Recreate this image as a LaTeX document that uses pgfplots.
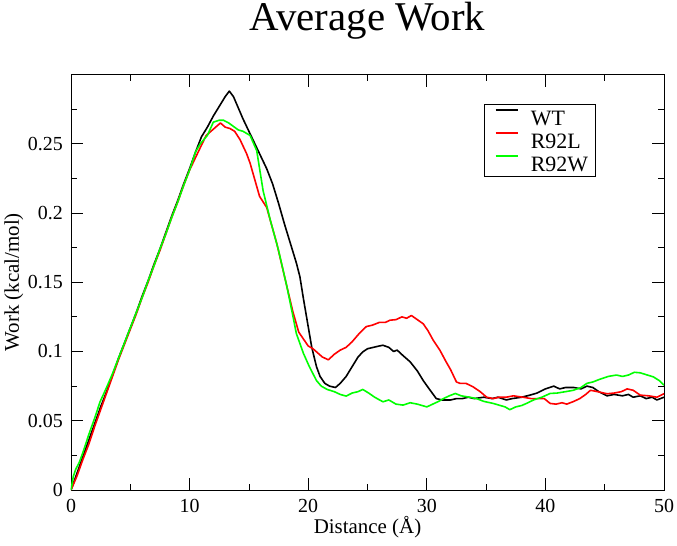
\documentclass[border=0pt]{standalone}
\usepackage{pgfplots}
\pgfplotsset{compat=1.18}
\usepackage{fontspec}
\setmainfont{Liberation Serif}
\definecolor{xmred}{RGB}{255,0,0}
\definecolor{xmgreen}{RGB}{0,255,0}
\begin{document}
\begin{tikzpicture}
\useasboundingbox (-71bp,-56bp) rectangle (606bp,490bp);
\begin{axis}[
  at={(0,0)}, anchor=south west,
  scale only axis, width=593bp, height=415.5bp,
  xmin=0, xmax=50, ymin=0, ymax=0.3,
  xtick={0,10,20,30,40,50}, minor x tick num=1,
  ytick={0,0.05,0.1,0.15,0.2,0.25},
  yticklabels={0,0.05,0.1,0.15,0.2,0.25},
  minor ytick={0.025,0.075,0.125,0.175,0.225,0.275},
  tick align=inside,
  major tick length=12bp, minor tick length=6bp,
  every tick/.style={black, line width=0.8bp},
  axis line style={black, line width=0.9bp},
  /pgf/number format/assume math mode=true,
  ticklabel style={font=\fontsize{20}{20}\selectfont, inner sep=0pt},
  xticklabel style={anchor=base, yshift=-22bp},
  yticklabel style={anchor=east, xshift=-8bp},
  xlabel={Distance (Å)},
  ylabel={Work (kcal/mol)},
  label style={font=\fontsize{21}{21}\selectfont, inner sep=0pt},
  xlabel style={at={(axis description cs:0.5,0)}, anchor=base, yshift=-43bp},
  ylabel style={at={(axis description cs:-0.0877,0.5)}, anchor=base},
  title={Average Work},
  every axis title/.style={at={(axis description cs:0.5,1)}, anchor=base, yshift=44bp, font=\fontsize{41}{41}\selectfont, inner sep=0pt},
  legend style={at={(axis description cs:0.697,0.929)}, anchor=north west, draw=black, line width=0.8bp,
    inner xsep=7bp, inner ysep=1.5bp, column sep=12bp, row sep=0bp,
    font=\fontsize{22}{22}\selectfont,
    nodes={inner sep=0bp, text height=20bp, text depth=3bp}},
  legend cell align=left,
  every axis plot/.append style={line width=1.6bp, line join=round},
]
\addplot[black, legend image code/.code={\path (0bp,0bp); \draw[black, line width=1.6bp] (3bp,7.5bp) -- (25.5bp,7.5bp);}] coordinates {
(0,0) (0.5,0.012) (1,0.024) (1.5,0.036) (2,0.048) (2.5,0.060) (3,0.071) (3.5,0.083) (4,0.095) (4.5,0.106)
(5,0.117) (5.5,0.128) (6,0.140) (6.5,0.151) (7,0.163) (7.5,0.174) (8,0.186) (8.5,0.198) (9,0.209) (9.5,0.221)
(10,0.232) (10.5,0.244) (11,0.255) (11.5,0.262) (12,0.270) (12.5,0.277) (13,0.284) (13.35,0.288) (13.7,0.284)
(14,0.278) (14.5,0.268) (15,0.259) (15.5,0.250) (16,0.241) (16.5,0.232) (17,0.221) (17.5,0.207) (18,0.192)
(18.5,0.178) (19,0.164) (19.3,0.154) (19.6,0.138) (20,0.118) (20.3,0.103) (20.7,0.089) (21,0.082) (21.4,0.077)
(21.8,0.075) (22.3,0.074) (22.7,0.077) (23.2,0.082) (23.7,0.089) (24.2,0.096) (24.6,0.0997) (25,0.102)
(25.5,0.103) (26,0.104) (26.3,0.1045) (26.8,0.103) (27.2,0.100) (27.5,0.101) (28,0.097) (28.6,0.0925)
(29.2,0.086) (29.7,0.079) (30.2,0.073) (30.8,0.066) (31.3,0.065) (32,0.065) (32.5,0.066) (33,0.066)
(33.5,0.067) (34,0.066) (34.8,0.067) (35.5,0.066) (36,0.067) (36.7,0.065) (37.2,0.066) (38,0.067)
(38.7,0.0685) (39.3,0.070) (40,0.073) (40.7,0.075) (41.2,0.073) (41.7,0.074) (42.4,0.074) (43,0.073)
(43.5,0.075) (44,0.074) (44.5,0.071) (45.2,0.068) (45.8,0.069) (46.5,0.068) (47,0.069) (47.4,0.067)
(48,0.068) (48.5,0.066) (49,0.067) (49.4,0.065) (50,0.067)
};
\addlegendentry{WT}
\addplot[xmred, legend image code/.code={\path (0bp,0bp); \draw[xmred, line width=1.6bp] (3bp,7.5bp) -- (25.5bp,7.5bp);}] coordinates {
(0,0) (0.5,0.010) (1,0.022) (1.5,0.033) (2,0.046) (2.5,0.058) (3,0.070) (3.5,0.082) (4,0.094) (4.5,0.105)
(5,0.116) (5.5,0.127) (6,0.139) (6.5,0.150) (7,0.162) (7.5,0.173) (8,0.185) (8.5,0.197) (9,0.208) (9.5,0.220)
(10,0.231) (10.5,0.240) (11,0.249) (11.4,0.256) (11.8,0.259) (12.2,0.262) (12.6,0.265) (13,0.262) (13.4,0.261)
(13.8,0.259) (14.25,0.253) (14.8,0.243) (15.1,0.236) (15.9,0.212) (16.5,0.204) (17.35,0.178) (18.2,0.147)
(18.7,0.129) (19.2,0.114) (19.6,0.109) (20,0.104) (20.4,0.102) (20.8,0.099) (21.2,0.096) (21.7,0.094)
(22.2,0.098) (22.7,0.101) (23.2,0.103) (23.7,0.107) (24.3,0.113) (24.9,0.118) (25.4,0.119) (26,0.121)
(26.5,0.121) (26.9,0.1226) (27.4,0.123) (27.9,0.125) (28.3,0.124) (28.7,0.126) (29.2,0.123) (29.7,0.120)
(30.1,0.115) (30.55,0.108) (31.1,0.101) (31.6,0.093) (32,0.087) (32.5,0.078) (32.8,0.077) (33.3,0.077)
(33.9,0.0745) (34.5,0.071) (35.05,0.067) (35.6,0.066) (36.1,0.067) (36.7,0.067) (37.3,0.068) (38.1,0.067)
(38.8,0.066) (39.5,0.066) (39.9,0.066) (40.4,0.0625) (40.9,0.062) (41.4,0.063) (41.8,0.062) (42.4,0.064)
(42.9,0.066) (43.4,0.069) (43.8,0.072) (44.4,0.071) (45.2,0.0695) (45.8,0.070) (46.4,0.071) (46.9,0.073)
(47.4,0.072) (48,0.0685) (48.7,0.068) (49.4,0.067) (50,0.0695)
};
\addlegendentry{R92L}
\addplot[xmgreen, legend image code/.code={\path (0bp,0bp); \draw[xmgreen, line width=1.6bp] (3bp,7.5bp) -- (25.5bp,7.5bp);}] coordinates {
(0,0) (0.2,0.010) (0.4,0.015) (0.7,0.020) (1,0.027) (1.5,0.040) (2,0.052) (2.45,0.0637) (3,0.074) (3.5,0.084)
(4,0.095) (4.5,0.106) (5,0.117) (5.5,0.128) (6,0.139) (6.5,0.151) (7,0.162) (7.5,0.174) (8,0.185) (8.5,0.197)
(9,0.208) (9.5,0.220) (10,0.231) (10.5,0.244) (10.9,0.250) (11.5,0.256) (12,0.2656) (12.5,0.267) (12.85,0.267)
(13.3,0.265) (13.7,0.2625) (14.1,0.260) (14.5,0.259) (15.1,0.256) (15.66,0.245) (16.2,0.216) (16.8,0.195)
(17.5,0.173) (18.2,0.147) (18.7,0.126) (19.0,0.113) (19.6,0.0986) (20.1,0.089) (20.7,0.079) (21.1,0.075)
(21.6,0.0726) (22.2,0.071) (22.7,0.069) (23.2,0.0678) (23.7,0.070) (24.2,0.071) (24.6,0.0726) (25.1,0.070)
(25.6,0.067) (26.3,0.0637) (26.8,0.065) (27.4,0.062) (28,0.0613) (28.6,0.063) (29.2,0.062) (29.6,0.061)
(30,0.060) (30.5,0.062) (31,0.064) (31.4,0.066) (31.9,0.068) (32.4,0.0697) (32.9,0.068) (33.6,0.067)
(34.2,0.066) (34.8,0.064) (35.6,0.0625) (36.2,0.061) (36.6,0.060) (37.0,0.058) (37.5,0.060) (38,0.061)
(38.4,0.0625) (39,0.065) (39.7,0.067) (40.4,0.0697) (41,0.070) (41.7,0.071) (42.35,0.072) (43,0.074)
(43.5,0.077) (44,0.078) (44.6,0.080) (45.3,0.082) (46,0.083) (46.5,0.082) (47,0.083) (47.5,0.085)
(48,0.0846) (48.6,0.083) (49.1,0.0817) (49.6,0.079) (50,0.0757)
};
\addlegendentry{R92W}
\end{axis}
\end{tikzpicture}
\end{document}
